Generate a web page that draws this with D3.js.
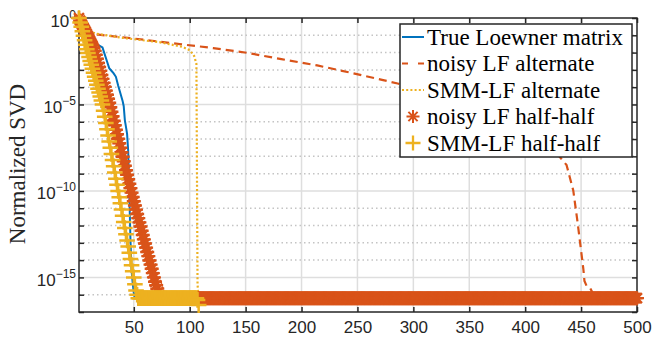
<!DOCTYPE html>
<html>
<head>
<meta charset="utf-8">
<script src="https://cdn.jsdelivr.net/npm/d3@7"></script>
<style>
body { margin: 0; background: #fff; }
</style>
</head>
<body>
<script>
// values, stored as log10 of the normalized singular value
xTicks = [50, 100, 150, 200, 250, 300, 350, 400, 450, 500]
yMajorExp = [0, -5, -10, -15]
yDecades = d3.range(0, -18, -1)

legendLabels = ['True Loewner matrix', 'noisy LF alternate', 'SMM-LF alternate', 'noisy LF half-half', 'SMM-LF half-half']

trueLoewnerIdx = [1, 4, 8, 12, 14, 18, 22, 24, 26, 28, 30, 32, 34, 36, 38, 40, 41, 42, 43, 44, 45, 46, 47, 48, 49, 50, 51, 108]
trueLoewnerExp = [0, -0.35, -0.75, -1.15, -1.38, -1.55, -1.7, -2.1, -2.5, -2.9, -3.05, -3.2, -3.4, -3.9, -4.35, -4.8, -5.1, -5.9, -6.3, -6.7, -7.7, -10.2, -12.8, -14.6, -15.3, -15.9, -16.2, -16.2]

altNoisyIdx = [1, 4, 8, 14, 49, 91, 121, 151, 182, 214, 243, 273, 286, 330, 380, 420, 437, 443, 447, 450, 452, 453, 455, 458, 462, 500]
altNoisyExp = [0, -0.5, -0.75, -0.93, -1.18, -1.51, -1.74, -2.01, -2.38, -2.74, -3.15, -3.59, -3.79, -4.6, -5.8, -7.2, -8.5, -9.97, -11.88, -13.45, -14.5, -15.2, -15.5, -15.6, -16.1, -16.2]

altSmmIdx = [1, 5, 10, 16, 40, 73, 93, 100, 104, 106, 107, 108]
altSmmExp = [0, -0.5, -0.75, -0.9, -1.15, -1.4, -1.66, -1.86, -2.2, -2.65, -15.4, -16.2]

// half-half series: one value per index, the head is the falling part, then the floor
halfNoisyHead = [0, -0.15, -0.3, -0.42, -0.55, -0.68, -0.8, -0.93, -1.06, -1.2,
	-1.33, -1.46, -1.6, -1.75, -1.9, -2.13, -2.36, -2.6, -2.83, -3.06,
	-3.3, -3.52, -3.75, -3.98, -4.2, -4.44, -4.67, -4.9, -5.16, -5.42,
	-5.68, -5.94, -6.2, -6.46, -6.72, -6.98, -7.24, -7.5, -7.76, -8.02,
	-8.28, -8.54, -8.8, -9.06, -9.32, -9.58, -9.84, -10.1, -10.35, -10.6,
	-10.84, -11.08, -11.33, -11.57, -11.82, -12.06, -12.3, -12.55, -12.8, -13.04,
	-13.28, -13.53, -13.77, -14.02, -14.26, -14.5, -14.75, -15, -15.25, -15.45,
	-15.65, -15.85, -16.05]
halfNoisyFloor = -16.2
halfNoisyTail = []
halfNoisyCount = 500

halfSmmHead = [0, -0.26, -0.51, -0.77, -1.03, -1.29, -1.54, -1.8, -2.03, -2.26,
	-2.49, -2.71, -2.94, -3.17, -3.4, -3.63, -3.86, -4.09, -4.31, -4.54,
	-4.77, -5, -5.36, -5.71, -6.07, -6.43, -6.79, -7.14, -7.5, -7.86,
	-8.21, -8.57, -8.93, -9.29, -9.64, -10, -10.36, -10.71, -11.07, -11.43,
	-11.79, -12.14, -12.5, -12.86, -13.21, -13.57, -13.93, -14.29, -14.64, -15,
	-15.4, -15.75, -16]
halfSmmFloor = -16.2
halfSmmTail = [-16.3, -16.6]
halfSmmCount = 108

blue = '#0072BD'
orange = '#D95319'
yellow = '#EDB120'
axisColor = '#262626'

svgWidth = 652
svgHeight = 338
plotLeft = 79
plotRight = 637
plotTop = 18
plotBottom = 312

function pairs(idx, exps) {
	return idx.map((d, i) => [d, Math.pow(10, exps[i])])
}

function perIndex(head, floor, tail, count) {
	var vals = head.slice()
	var nFloor = count - head.length - tail.length
	for (var i = 0; i < nFloor; i++) vals.push(floor)
	vals = vals.concat(tail)
	return vals.map((e, i) => [i + 1, Math.pow(10, e)])
}

svg = d3.select('body').append('svg')
	.attr('width', svgWidth)
	.attr('height', svgHeight)
	.style('font-family', 'Liberation Sans, Arial, sans-serif')

xScale = d3.scaleLinear().domain([1, 500]).range([plotLeft, plotRight])
yScale = d3.scaleLog().domain([1e-17, 1]).range([plotBottom, plotTop])

// grid
grid = svg.append('g').attr('class', 'grid')
grid.selectAll('.vgrid')
	.data(xTicks.slice(0, -1))
	.enter().append('line')
	.attr('x1', d => xScale(d)).attr('x2', d => xScale(d))
	.attr('y1', plotTop).attr('y2', plotBottom)
	.style('stroke', '#dedede')
	.style('stroke-width', 1.5)
grid.selectAll('.hminor')
	.data(yDecades.filter(e => e % 5 != 0 && e > -17))
	.enter().append('line')
	.attr('x1', plotLeft).attr('x2', plotRight)
	.attr('y1', d => yScale(Math.pow(10, d))).attr('y2', d => yScale(Math.pow(10, d)))
	.style('stroke', '#c4c4c4')
	.style('stroke-width', 1.5)
	.style('stroke-dasharray', '1.5,3')
grid.selectAll('.hmajor')
	.data(yMajorExp.filter(e => e < 0))
	.enter().append('line')
	.attr('x1', plotLeft).attr('x2', plotRight)
	.attr('y1', d => yScale(Math.pow(10, d))).attr('y2', d => yScale(Math.pow(10, d)))
	.style('stroke', '#dedede')
	.style('stroke-width', 1.5)

// axes, ticks pointing inward
function styleAxis(g) {
	g.select('.domain').remove()
	g.selectAll('.tick line').style('stroke', axisColor).style('stroke-width', 1.5)
	g.selectAll('.tick text')
		.style('font-family', 'Liberation Sans, Arial, sans-serif')
		.style('font-size', '17px')
		.style('fill', axisColor)
}

svg.append('g')
	.attr('transform', 'translate(0,' + plotBottom + ')')
	.call(d3.axisBottom(xScale).tickValues(xTicks).tickSize(-5).tickPadding(9))
	.call(styleAxis)
svg.append('g')
	.attr('transform', 'translate(0,' + plotTop + ')')
	.call(d3.axisTop(xScale).tickValues(xTicks).tickSize(-5).tickFormat(''))
	.call(styleAxis)
svg.append('g')
	.attr('transform', 'translate(' + plotLeft + ',0)')
	.call(d3.axisLeft(yScale).tickValues(yDecades.map(e => Math.pow(10, e))).tickSize(-5).tickFormat(''))
	.call(styleAxis)
svg.append('g')
	.attr('transform', 'translate(' + plotRight + ',0)')
	.call(d3.axisRight(yScale).tickValues(yDecades.map(e => Math.pow(10, e))).tickSize(-5).tickFormat(''))
	.call(styleAxis)

// y tick labels 10^e
yLabels = svg.append('g').selectAll('text')
	.data(yMajorExp)
	.enter().append('text')
	.attr('x', plotLeft - 3)
	.attr('y', d => yScale(Math.pow(10, d)) + 8.5)
	.attr('text-anchor', 'end')
	.style('fill', axisColor)
	.style('font-size', '17px')
yLabels.append('tspan').text('10')
yLabels.append('tspan')
	.attr('dy', -8)
	.style('font-size', '12px')
	.text(d => d == 0 ? '0' : '\u2212' + (-d))

svg.append('rect')
	.attr('x', plotLeft).attr('y', plotTop)
	.attr('width', plotRight - plotLeft).attr('height', plotBottom - plotTop)
	.style('fill', 'none')
	.style('stroke', axisColor)
	.style('stroke-width', 1.5)

svg.append('text')
	.attr('transform', 'translate(25,' + 164 + ') rotate(-90)')
	.attr('text-anchor', 'middle')
	.style('font-family', 'Liberation Serif, Times New Roman, serif')
	.style('font-size', '23px')
	.style('fill', axisColor)
	.text('Normalized SVD')

// series
line = d3.line().x(d => xScale(d[0])).y(d => yScale(d[1]))
data = svg.append('g').attr('class', 'lines')

data.append('path')
	.attr('d', line(pairs(trueLoewnerIdx, trueLoewnerExp)))
	.style('fill', 'none').style('stroke', blue).style('stroke-width', 2)
data.append('path')
	.attr('d', line(pairs(altNoisyIdx, altNoisyExp)))
	.style('fill', 'none').style('stroke', orange).style('stroke-width', 2.2)
	.style('stroke-dasharray', '8,5')
data.append('path')
	.attr('d', line(pairs(altSmmIdx, altSmmExp)))
	.style('fill', 'none').style('stroke', yellow).style('stroke-width', 2.2)
	.style('stroke-dasharray', '2,2.2')

asteriskR = 7
plusR = 7.8
function asterisk(r) {
	var d = r * 0.7071
	return 'M0,' + (-r) + 'L0,' + r + 'M' + (-r) + ',0L' + r + ',0' +
		'M' + (-d) + ',' + (-d) + 'L' + d + ',' + d + 'M' + (-d) + ',' + d + 'L' + d + ',' + (-d)
}
function plus(r) {
	return 'M0,' + (-r) + 'L0,' + r + 'M' + (-r) + ',0L' + r + ',0'
}

data.append('g').selectAll('path')
	.data(perIndex(halfNoisyHead, halfNoisyFloor, halfNoisyTail, halfNoisyCount))
	.enter().append('path')
	.attr('transform', d => 'translate(' + xScale(d[0]) + ',' + yScale(d[1]) + ')')
	.attr('d', asterisk(asteriskR))
	.style('fill', 'none').style('stroke', orange).style('stroke-width', 2.4)
data.append('g').selectAll('path')
	.data(perIndex(halfSmmHead, halfSmmFloor, halfSmmTail, halfSmmCount))
	.enter().append('path')
	.attr('transform', d => 'translate(' + xScale(d[0]) + ',' + yScale(d[1]) + ')')
	.attr('d', plus(plusR))
	.style('fill', 'none').style('stroke', yellow).style('stroke-width', 2.5)

// legend
legend = svg.append('g').attr('class', 'legend')
legend.append('rect')
	.attr('x', 400).attr('y', 24)
	.attr('width', 232).attr('height', 133)
	.style('fill', '#fff')
	.style('stroke', axisColor)
	.style('stroke-width', 1.5)

rowY = i => 37 + i * 26.5
legend.append('line').attr('x1', 402).attr('x2', 424).attr('y1', rowY(0)).attr('y2', rowY(0))
	.style('stroke', blue).style('stroke-width', 2)
legend.append('line').attr('x1', 402).attr('x2', 424).attr('y1', rowY(1)).attr('y2', rowY(1))
	.style('stroke', orange).style('stroke-width', 2.2).style('stroke-dasharray', '6,10')
legend.append('line').attr('x1', 402).attr('x2', 424).attr('y1', rowY(2)).attr('y2', rowY(2))
	.style('stroke', yellow).style('stroke-width', 2.2).style('stroke-dasharray', '2,2.2')
legend.append('path').attr('transform', 'translate(413,' + rowY(3) + ')')
	.attr('d', asterisk(6.5))
	.style('fill', 'none').style('stroke', orange).style('stroke-width', 2)
legend.append('path').attr('transform', 'translate(413,' + rowY(4) + ')')
	.attr('d', plus(7.5))
	.style('fill', 'none').style('stroke', yellow).style('stroke-width', 2.3)

legend.selectAll('.label')
	.data(legendLabels)
	.enter().append('text')
	.attr('x', 427)
	.attr('y', (d, i) => rowY(i) + 7.5)
	.style('font-family', 'Liberation Serif, Times New Roman, serif')
	.style('font-size', '23px')
	.style('fill', '#000')
	.text(d => d)
</script>
</body>
</html>
